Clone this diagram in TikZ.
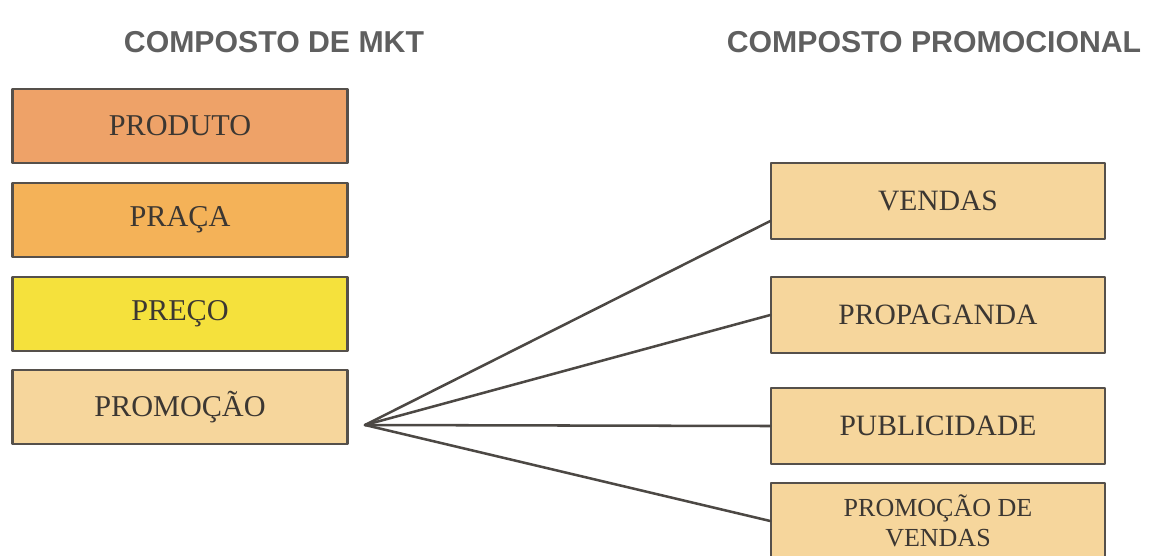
\documentclass[tikz,border=0pt]{standalone}
\usepackage{fontspec}
\setmainfont{Liberation Serif}
\newfontfamily\titlefont{Liberation Sans}

\definecolor{corproduto}{RGB}{238,162,104}
\definecolor{corpraca}{RGB}{244,178,88}
\definecolor{corpreco}{RGB}{245,225,60}
\definecolor{corpromo}{RGB}{246,214,156}
\definecolor{borda}{RGB}{85,80,75}
\definecolor{letra}{RGB}{60,55,50}
\definecolor{cinzatitulo}{RGB}{95,95,95}

\tikzset{
	caixa/.style={draw=borda, line width=1.5pt, minimum width=8.375cm, minimum height=1.85cm, inner sep=0pt, text=letra, font=\fontsize{21.5}{24}\selectfont},
	caixad/.style={caixa, fill=corpromo, minimum width=8.33cm, minimum height=1.9cm, font=\fontsize{21}{24}\selectfont},
	titulo/.style={text=cinzatitulo, font=\titlefont\bfseries\fontsize{21.5}{25}\selectfont},
	ligacao/.style={draw=borda!90!black, line width=1.8pt}
}

\begin{document}
\begin{tikzpicture}[x=0.025cm, y=-0.025cm, line join=round, line cap=round]
				\clip (0,0) rectangle (1152,555);
				
				\node[titulo] (mkt) at (274,42) {COMPOSTO DE MKT};
				\node[titulo] (promocional) at (934,42) {COMPOSTO PROMOCIONAL};
				
				% composto de marketing
				\node[caixa, fill=corproduto] (produto) at (180,126) {PRODUTO};
				\node[caixa, fill=corpraca] (praca) at (180,220) {PRAÇA};
				\node[caixa, fill=corpreco] (preco) at (180,314) {PREÇO};
				\node[caixa, fill=corpromo] (promocao) at (180,407) {PROMOÇÃO};
				
				% composto promocional
				\node[caixad] (vendas) at (938,201) {VENDAS};
				\node[caixad] (propaganda) at (938,315) {PROPAGANDA};
				\node[caixad] (publicidade) at (938,426) {PUBLICIDADE};
				\node[caixad, align=center, font=\fontsize{18.5}{21}\selectfont] (promovendas) at (938,521) {PROMOÇÃO DE\\VENDAS};
				
				\path (365,425) coordinate (O);
				
				\draw[ligacao] (O) -- ([yshift=-0.5cm]vendas.west);
				\foreach \x in {propaganda, publicidade, promovendas}
				\draw[ligacao] (O) -- (\x.west);
			\end{tikzpicture}
\end{document}
